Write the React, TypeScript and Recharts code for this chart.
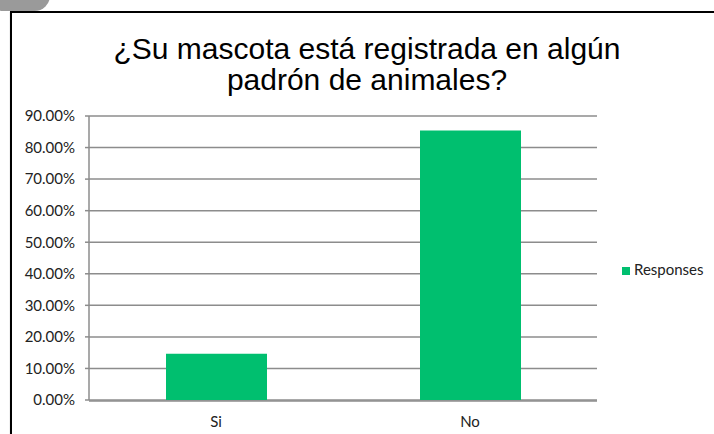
import React from "react";
import {
  BarChart,
  Bar,
  XAxis,
  YAxis,
  CartesianGrid,
  Legend,
} from "recharts";

const categories = ["Si", "No"];
const responses = [0.1463, 0.8537];
const yTicks = [0, 0.1, 0.2, 0.3, 0.4, 0.5, 0.6, 0.7, 0.8, 0.9];
const boundaryTicks = [0, 1, 2];
const titleLines = ["¿Su mascota está registrada en algún", "padrón de animales?"];
const seriesName = "Responses";

const data = categories.map((c, i) => ({ name: c, value: responses[i] }));

const GREEN = "#00bf6f";
const GRID = "#8c8c8c";
const LABEL_FONT = "Lato, 'Open Sans', sans-serif";

export default function App() {
  return (
    <div
      style={{
        position: "absolute",
        left: 0,
        top: 0,
        width: 714,
        height: 434,
        overflow: "hidden",
        background: "#fff",
      }}
    >
      <div
        style={{
          position: "absolute",
          left: -12,
          top: -20,
          width: 62,
          height: 31,
          borderRadius: 16,
          background: "#9a9a9a",
        }}
      />
      <div
        style={{
          position: "absolute",
          left: 10,
          top: 11,
          width: 740,
          height: 460,
          borderTop: "2px solid #000",
          borderLeft: "2px solid #000",
          boxShadow: "0 1px 1px #aaa",
        }}
      />
      <div
        style={{
          position: "absolute",
          left: 67,
          top: 33,
          width: 600,
          textAlign: "center",
          fontFamily: "'Liberation Sans', Arial, sans-serif",
          fontSize: 30,
          lineHeight: "31px",
          color: "#000",
        }}
      >
        {titleLines.map((t) => (
          <div key={t}>{t}</div>
        ))}
      </div>
      <div style={{ position: "absolute", left: 0, top: 0 }}>
        <BarChart
          width={714}
          height={434}
          data={data}
          margin={{ top: 116, right: 17, bottom: 4, left: 0 }}
        >
          <CartesianGrid vertical={false} stroke={GRID} strokeWidth={1.5} />
          <XAxis
            xAxisId="b"
            type="number"
            domain={[0, 2]}
            ticks={boundaryTicks}
            tick={false}
            axisLine={false}
            tickSize={4}
            tickLine={{ stroke: GRID, strokeWidth: 1.5 }}
            height={1}
          />
          <XAxis
            xAxisId="cat"
            dataKey="name"
            tickLine={false}
            axisLine={{ stroke: GRID, strokeWidth: 1.5 }}
            tick={{ fill: "#222", fontSize: 15, fontFamily: LABEL_FONT }}
            tickMargin={9}
            height={29}
          />
          <YAxis
            width={89}
            domain={[0, 0.9]}
            ticks={yTicks}
            tickFormatter={(v: number) => `${(v * 100).toFixed(2)}%`}
            tickSize={4}
            tickMargin={10}
            axisLine={{ stroke: GRID, strokeWidth: 1.5 }}
            tickLine={{ stroke: GRID, strokeWidth: 1.5 }}
            tick={{ fill: "#222", fontSize: 15, fontFamily: LABEL_FONT }}
            interval={0}
          />
          <Legend
            layout="vertical"
            align="right"
            verticalAlign="middle"
            iconType="square"
            iconSize={8}
            wrapperStyle={{
              left: 622,
              top: 260,
              width: 100,
              fontFamily: LABEL_FONT,
              fontSize: 15,
            }}
            formatter={(v: string) => <span style={{ color: "#222" }}>{v}</span>}
          />
          <Bar
            xAxisId="cat"
            dataKey="value"
            name={seriesName}
            fill={GREEN}
            barSize={101}
            isAnimationActive={false}
          />
        </BarChart>
      </div>
    </div>
  );
}
